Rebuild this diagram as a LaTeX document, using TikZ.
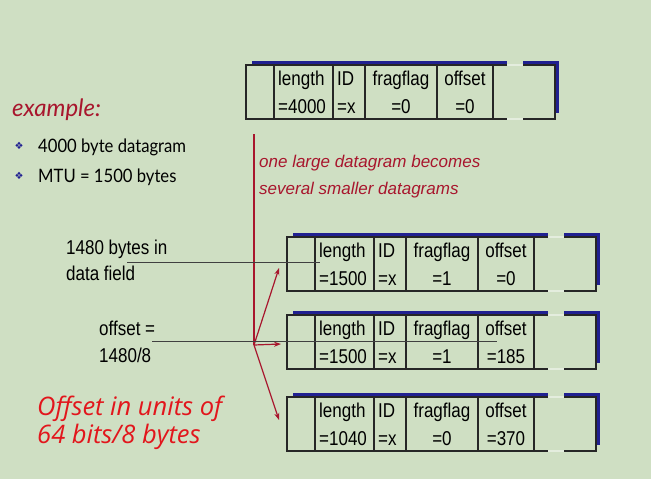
\documentclass[tikz,border=0pt]{standalone}
\usepackage{fontspec}
\setmainfont{Liberation Sans}
\newfontfamily\cellfont[FakeStretch=0.85]{Liberation Sans}
\newfontfamily\slidefont[FakeStretch=0.9]{Lato}
\newfontfamily\headfont{Lato}
\newfontfamily\notefont{Open Sans}
\newfontfamily\symfont{DejaVu Sans}
\usetikzlibrary{arrows.meta}

\definecolor{slidebg}{RGB}{207,223,195}
\definecolor{shadowblue}{RGB}{32,32,145}
\definecolor{wine}{RGB}{168,22,45}
\definecolor{notered}{RGB}{226,22,28}

\tikzset{
  cell/.style={anchor=base, inner sep=0pt, font=\cellfont\fontsize{20}{20}\selectfont},
  frame/.style={black!85, line width=1.3pt},
  pointer/.style={black!75, line width=0.9pt},
  fragarrow/.style={wine, line width=1.2pt, -{Stealth[length=7pt,width=5pt]}}
}

% one datagram header: name, x, y, length, flag, offset
\newcommand{\dgram}[6]{
\begin{scope}[shift={(#2,#3)}]
\draw[shadowblue, line width=4pt] (6,-2) -- (261,-2) (277,-2) -- (310.5,-2) -- (310.5,48);
\draw[white!45!slidebg, line width=1.3pt] (261,0) -- (277,0) (261,54) -- (277,54);
\draw[frame] (261,0) -- (0,0) -- (0,54) -- (261,54);
\draw[frame] (277,0) -- (309,0) -- (309,54) -- (277,54);
\foreach \c in {28,87,119,191,247}
{
\draw[frame] (\c,0) -- (\c,54);
}
\node[cell, anchor=base west] (#1-len) at (32,20) {length};
\node[cell, anchor=base west] (#1-lenv) at (32,48) {=#4};
\node[cell, anchor=base west] (#1-id) at (91,20) {ID};
\node[cell, anchor=base west] (#1-idv) at (91,48) {=x};
\node[cell] (#1-flag) at (155,20) {fragflag};
\node[cell] (#1-flagv) at (155,48) {=#5};
\node[cell] (#1-off) at (219,20) {offset};
\node[cell] (#1-offv) at (219,48) {=#6};
\end{scope}
}

\begin{document}
\begin{tikzpicture}[x=1pt, y=-1pt]
\useasboundingbox[fill=slidebg] (0,0) rectangle (651,479);

\dgram{orig}{246}{65}{4000}{0}{0}
\dgram{fragA}{287}{237}{1500}{1}{0}
\dgram{fragB}{287}{315}{1500}{1}{185}
\dgram{fragC}{287}{397}{1040}{0}{370}

% left column
\node[anchor=base west, inner sep=0pt, wine, font=\headfont\itshape\fontsize{24}{24}\selectfont] (example) at (12,116) {example:};
\foreach \t/\y [count=\k] in {4000 byte datagram/152, MTU = 1500 bytes/182}
{
\node[anchor=base, inner sep=0pt, shadowblue, font=\symfont\fontsize{10}{10}\selectfont] (bul\k) at (19,\y-3) {❖};
\node[anchor=base west, inner sep=0pt, font=\slidefont\fontsize{18.5}{19}\selectfont] (item\k) at (38,\y) {\t};
}

% splitting
\node[anchor=base west, inner sep=0pt, wine, font=\itshape\fontsize{17}{17}\selectfont] (note1) at (259,167) {one large datagram becomes};
\node[anchor=base west, inner sep=0pt, wine, font=\itshape\fontsize{17}{17}\selectfont] (note2) at (259,194) {several smaller datagrams};
\coordinate (splittop) at (254,134);
\coordinate (split) at (254,345);
\coordinate (tipA) at (279,268);
\coordinate (tipB) at (281,344);
\coordinate (tipC) at (279,420);
\draw[wine, line width=1.2pt] (splittop) -- (split);
\draw[fragarrow] (split) -- (tipA);
\draw[fragarrow] (split) -- (tipB);
\draw[fragarrow] (split) -- (tipC);

% pointers
\node[cell, anchor=base west] (bytes) at (66,254) {1480 bytes in};
\node[cell, anchor=base west] (field) at (66,280) {data field};
\node[cell, anchor=base west] (offs) at (99,335) {offset =};
\node[cell, anchor=base west] (offsv) at (99,362) {1480/8};
\coordinate (bytesend) at (320,262);
\coordinate (offsend) at (497,341);
\draw[pointer] (127,262) -- (bytesend);
\draw[pointer] (152,341) -- (offsend);

\node[anchor=base west, inner sep=0pt, notered, font=\notefont\itshape\fontsize{25.5}{25.5}\selectfont] (units1) at (37,415) {Offset in units of};
\node[anchor=base west, inner sep=0pt, notered, font=\notefont\itshape\fontsize{25.5}{25.5}\selectfont] (units2) at (37,443) {64 bits/8 bytes};
\end{tikzpicture}
\end{document}
